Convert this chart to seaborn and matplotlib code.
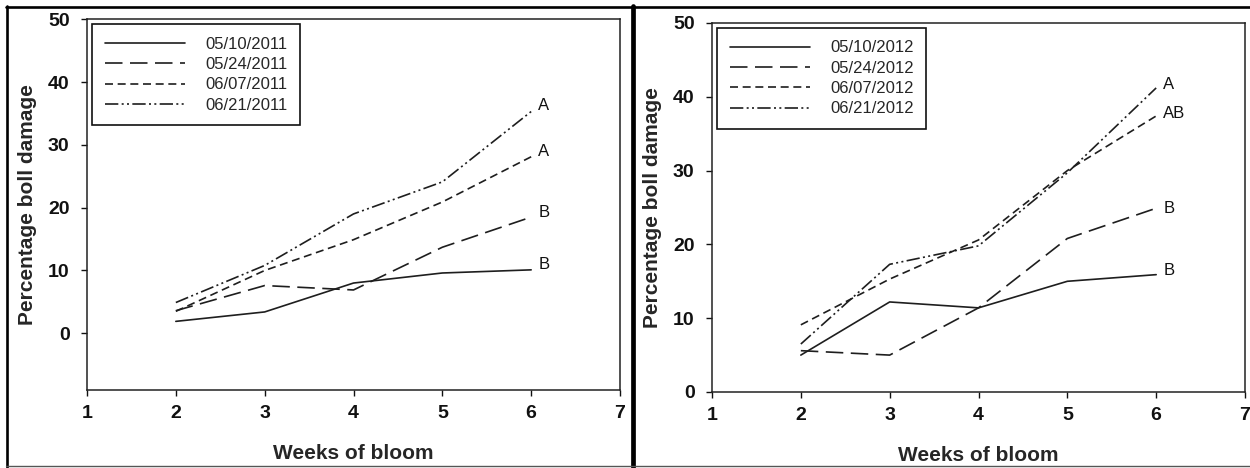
import pandas as pd
import seaborn as sns
import matplotlib.pyplot as plt
from matplotlib.lines import Line2D

weeks = [2, 3, 4, 5, 6]

dates_2011 = ['05/10/2011', '05/24/2011', '06/07/2011', '06/21/2011']
damage_2011_0510 = [1.9, 3.4, 8.0, 9.6, 10.1]
damage_2011_0524 = [3.6, 7.6, 6.9, 13.7, 18.5]
damage_2011_0607 = [3.5, 10.0, 14.9, 20.9, 28.1]
damage_2011_0621 = [4.9, 10.8, 19.0, 24.1, 35.3]
letters_2011 = ['B', 'B', 'A', 'A']

dates_2012 = ['05/10/2012', '05/24/2012', '06/07/2012', '06/21/2012']
damage_2012_0510 = [5.0, 12.2, 11.4, 15.0, 15.9]
damage_2012_0524 = [5.6, 5.0, 11.4, 20.8, 24.9]
damage_2012_0607 = [9.1, 15.3, 20.6, 30.0, 37.4]
damage_2012_0621 = [6.5, 17.3, 19.8, 29.7, 41.2]
letters_2012 = ['B', 'B', 'AB', 'A']

sns.set_style('ticks')
plt.rcParams['font.family'] = ['Liberation Sans', 'DejaVu Sans']

# solid, long dash, short dash, dash-dot-dot
dash_styles = ['', (10.5, 4.5), (4.8, 2.8), (8, 2, 1.2, 2, 1.2, 2)]
line_color = '#1e1e1e'


def make_long(dates, series):
    frames = []
    for d, vals in zip(dates, series):
        frames.append(pd.DataFrame({'Week': weeks, 'Damage': vals, 'Date': d}))
    return pd.concat(frames, ignore_index=True)


def plot_panel(ax, dates, series, letters, ylim, letter_dy):
    df = make_long(dates, series)
    sns.lineplot(
        data=df, x='Week', y='Damage', style='Date', style_order=dates,
        dashes=dict(zip(dates, dash_styles)), color=line_color,
        linewidth=1.2, ax=ax, legend=True
    )
    for vals, letter, dy in zip(series, letters, letter_dy):
        ax.text(weeks[-1] + 0.08, vals[-1] + dy, letter, ha='left', va='center',
                fontsize=12, color='#111111')
    ax.set_xlim(1, 7)
    ax.set_ylim(*ylim)
    ax.set_xticks(range(1, 8))
    ax.set_yticks(range(0, 51, 10))
    ax.tick_params(direction='out', length=4.5, width=1, labelsize=14, colors='#111111')
    ax.tick_params(axis='x', pad=6.5)
    ax.tick_params(axis='y', pad=8)
    for lab in ax.get_xticklabels() + ax.get_yticklabels():
        lab.set_fontweight('bold')
    for sp in ax.spines.values():
        sp.set_visible(True)
        sp.set_linewidth(1.1)
        sp.set_color('#222222')
    ax.set_xlabel('Weeks of bloom', fontsize=15, fontweight='bold', labelpad=16)
    ax.set_ylabel('Percentage boll damage', fontsize=15, fontweight='bold', labelpad=8)
    leg = ax.legend(loc='upper left', fontsize=12, handlelength=4.85, handletextpad=1.2,
                    labelspacing=0.32, borderaxespad=0.3, fancybox=False,
                    edgecolor='#111111', framealpha=1, borderpad=0.75)
    leg.get_frame().set_linewidth(1.2)
    for h in leg.get_lines():
        h.set_linewidth(1.2)


fig = plt.figure(figsize=(12.5, 4.68), dpi=100)
ax1 = fig.add_axes([0.0696, 0.167, 0.4264, 0.792])
ax2 = fig.add_axes([0.5696, 0.1624, 0.4264, 0.7885])

plot_panel(ax1, dates_2011,
           [damage_2011_0510, damage_2011_0524, damage_2011_0607, damage_2011_0621],
           letters_2011, (-9, 50), [0.8, 0.8, 0.9, 0.9])
plot_panel(ax2, dates_2012,
           [damage_2012_0510, damage_2012_0524, damage_2012_0607, damage_2012_0621],
           letters_2012, (0, 50), [0.6, 0.0, 0.4, 0.5])

# outer frame and panel divider
W, H = 1250, 468
frame = [
    ((6.5 / W, 6.5 / W), (0, 1 - 5.5 / H), 1.9, 'black'),
    ((5.5 / W, 1), (1 - 6.5 / H, 1 - 6.5 / H), 1.9, 'black'),
    ((633 / W, 633 / W), (0, 1 - 5.5 / H), 3.4, 'black'),
    ((5.5 / W, 1), (2 / H, 2 / H), 1.0, '#555555'),
]
for xs, ys, lw, c in frame:
    fig.add_artist(Line2D(xs, ys, transform=fig.transFigure, color=c, linewidth=lw))

fig.savefig('out.png', dpi=100)
